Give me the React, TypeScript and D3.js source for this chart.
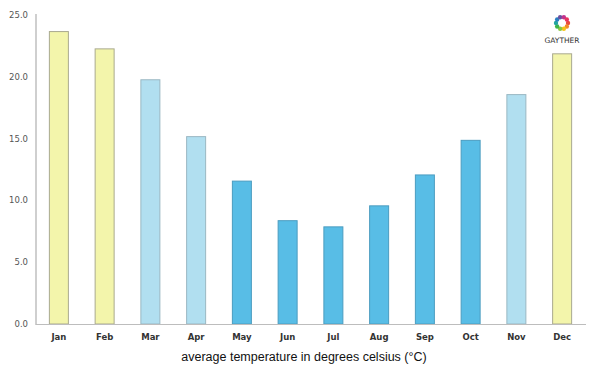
import React from "react";
import * as d3 from "d3";

const months = ["Jan", "Feb", "Mar", "Apr", "May", "Jun", "Jul", "Aug", "Sep", "Oct", "Nov", "Dec"];
const temps = [23.7, 22.3, 19.8, 15.2, 11.6, 8.4, 7.9, 9.6, 12.1, 14.9, 18.6, 21.9];
const tones = ["warm", "warm", "mild", "mild", "cool", "cool", "cool", "cool", "cool", "cool", "mild", "warm"];
const yTicks = [0, 5, 10, 15, 20, 25];
const logoColors = ["#e94b3c", "#f28c28", "#f5c518", "#8cc63f", "#3fb449", "#22a5a0", "#2a7fc1", "#6a4fa0", "#c2338d", "#e9365f"];

const fill: Record<string, string> = { warm: "#f3f5ab", mild: "#b1dff0", cool: "#58bde6" };
const stroke: Record<string, string> = { warm: "#a9a98f", mild: "#9ab7c2", cool: "#4b9cc0" };

export default function App() {
  const W = 600, H = 375;
  const x = d3.scaleBand<string>().domain(months).range([36, 585]).paddingInner(0.56).paddingOuter(0.28);
  const y = d3.scaleLinear().domain([0, 25]).range([324, 15]);
  const bw = 20;
  return (
    <svg width={W} height={H} style={{ position: "absolute", left: 0, top: 0 }}>
      <rect width={W} height={H} fill="#fff" />
      {temps.map((v, i) => {
        const cx = (x(months[i]) as number) + x.bandwidth() / 2;
        return (
          <rect key={i} x={cx - bw / 2 + 0.5} y={y(v) + 0.5} width={bw - 1} height={y(0) - y(v) - 0.5}
            fill={fill[tones[i]]} stroke={stroke[tones[i]]} strokeWidth={1} />
        );
      })}
      <line x1={36} x2={36} y1={14} y2={325} stroke="#cfcfcf" strokeWidth={2} />
      <line x1={36} x2={586} y1={324.5} y2={324.5} stroke="#bdbdbd" strokeWidth={1} />
      {yTicks.map((t) => (
        <text key={t} x={28} y={y(t) + 3} textAnchor="end" fontFamily="'DejaVu Sans', sans-serif" fontSize={8.5} fill="#555">
          {t.toFixed(1)}
        </text>
      ))}
      {months.map((m) => (
        <text key={m} x={(x(m) as number) + x.bandwidth() / 2} y={340} textAnchor="middle"
          fontFamily="'DejaVu Sans', sans-serif" fontSize={8.5} fontWeight="bold" fill="#333">
          {m}
        </text>
      ))}
      <text x={304} y={361} textAnchor="middle" fontFamily="'Liberation Sans', Arial, sans-serif" fontSize={12.5} fill="#111">
        average temperature in degrees celsius (°C)
      </text>
      <g transform="translate(562,23)">
        {logoColors.map((c, i) => {
          const a = (i / logoColors.length) * Math.PI * 2;
          return <circle key={i} cx={Math.cos(a) * 6} cy={Math.sin(a) * 6} r={2.2} fill={c} />;
        })}
      </g>
      <text x={562} y={43} textAnchor="middle" fontFamily="'DejaVu Sans', sans-serif" fontSize={7.5} fill="#333">GAYTHER</text>
    </svg>
  );
}
